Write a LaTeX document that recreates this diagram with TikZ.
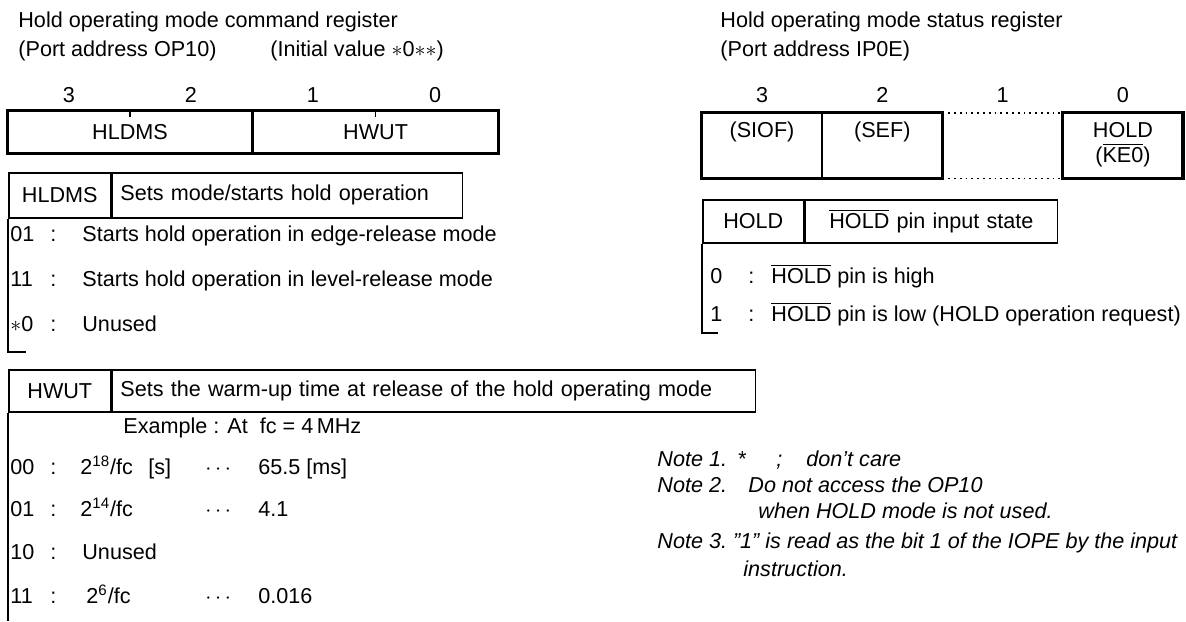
\documentclass[tikz,border=0pt]{standalone}
\usepackage{fontspec}
\setmainfont{Liberation Sans}
\usetikzlibrary{positioning}

\begin{document}
\begin{tikzpicture}[x=0.5pt, y=-0.5pt,
font=\fontsize{10.8}{12.5}\selectfont,
txt/.style={anchor=west, inner sep=0pt, text height=8pt, text depth=2pt},
note/.style={txt, font=\fontsize{10.8}{12.5}\selectfont\itshape},
bitno/.style={inner sep=0pt},
field/.style={rectangle, draw=black, line width=0.8pt, inner sep=0pt,
minimum width=122pt, minimum height=21pt},
cell/.style={rectangle, inner sep=0pt, minimum width=59.75pt, minimum height=32.5pt},
key/.style={rectangle, draw=black, line width=0.8pt, inner sep=0pt, minimum width=51pt},
desc/.style={rectangle, draw=black, line width=0.8pt, inner xsep=4pt, inner ysep=0pt, align=left},
reg/.style={draw=black, line width=1.6pt},
line/.style={draw=black, line width=0.8pt},
dotline/.style={draw=black, line width=0.9pt, dotted}
]
\useasboundingbox (0,0) rectangle (1186,621);

% titles
\node[txt] (cmd-title) at (18,21) {Hold operating mode command register};
\node[txt] (cmd-port) at (18,50) {(Port address OP10)};
\node[txt] (cmd-init) at (270,50) {(Initial value $\ast$0$\ast\ast$)};
\node[txt] (st-title) at (720,21) {Hold operating mode status register};
\node[txt] (st-port) at (720,50) {(Port address IP0E)};

% command register
\node[field] (hldms) at (130,132) {HLDMS};
\node[field, right=0pt of hldms] (hwut) {HWUT};
\draw[reg] (hldms.north west) rectangle (hwut.south east);
\draw[line] (hldms.north) -- ++(0,7);
\draw[line] (hwut.north) -- ++(0,7);
\foreach \b/\x in {3/69,2/191,1/313,0/435}
  \node[bitno] (cmd-b\b) at (\x,95) {\b};

% status register
\node[cell] (sc3) at (762,145.5) {};
\node[cell, right=0pt of sc3] (sc2) {};
\node[cell, right=0pt of sc2] (sc1) {};
\node[cell, right=0pt of sc1] (sc0) {};
\draw[reg] (sc3.north west) rectangle (sc2.south east);
\draw[line] (sc3.north east) -- (sc3.south east);
\draw[reg] (sc0.north west) rectangle (sc0.south east);
\draw[dotline] (sc1.north west) -- (sc1.north east);
\draw[dotline] (sc1.south west) -- (sc1.south east);
\foreach \b in {3,2,1,0}
  \node[bitno] (st-b\b) at ([yshift=9pt]sc\b.north) {\b};
\node[inner sep=0pt, below=4.5pt of sc3.north] (siof) {(SIOF)};
\node[inner sep=0pt, below=4.5pt of sc2.north] (sef) {(SEF)};
\node[inner sep=0pt, align=center, below=4.5pt of sc0.north] (hold) {HOLD\\($\overline{\mbox{KE0}}$)};

% HLDMS table
\node[key, minimum height=22.5pt, anchor=north west] (hldms-key) at (8,172) {HLDMS};
\node[desc, minimum height=22.5pt, text width=167pt, right=0pt of hldms-key] (hldms-desc) {Sets mode/starts hold operation};
\draw[line] (hldms-key.south west) -- (8,352) -- ++(18,0);
\foreach \y/\c/\t in {235/01/Starts hold operation in edge-release mode,
                      280/11/Starts hold operation in level-release mode,
                      325/{$\ast$0}/Unused} {
  \node[txt] at (10,\y) {\c};
  \node[txt] at (50,\y) {:};
  \node[txt] at (82,\y) {\t};
}

% HWUT table
\node[key, minimum height=21pt, anchor=north west] (hwut-key) at (8,369) {HWUT};
\node[desc, minimum height=21pt, text width=313.5pt, right=0pt of hwut-key] (hwut-desc) {Sets the warm-up time at release of the hold operating mode};
\draw[line] (hwut-key.south west) -- (8,621);
\node[txt] (example) at (123,427) {Example : At\ \ fc = 4\,MHz};
\foreach \y/\c/\t/\v in {468/00/{2\textsuperscript{18}/fc}/65.5,
                         510/01/{2\textsuperscript{14}/fc}/4.1,
                         597/11/{\ 2\textsuperscript{6}/fc}/0.016} {
  \node[txt] at (10,\y) {\c};
  \node[txt] at (50,\y) {:};
  \node[txt] at (80,\y) {\t};
  \node[txt] at (205,\y) {$\cdots$};
  \node[txt] at (258,\y) {\v};
}
\node[txt] at (148,468) {[s]};
\node[txt] at (306,468) {[ms]};
\node[txt] at (10,553) {10};
\node[txt] at (50,553) {:};
\node[txt] at (82,553) {Unused};

% HOLD table
\node[key, minimum width=50.5pt, minimum height=21.5pt, anchor=north west] (hold-key) at (702,199) {HOLD};
\node[desc, minimum height=21.5pt, text width=118pt, align=center, right=0pt of hold-key] (hold-desc) {$\overline{\mbox{HOLD}}$ pin input state};
\draw[line] (hold-key.south west) -- (702,333) -- ++(16,0);
\node[txt] at (710,277) {0};
\node[txt] at (748,277) {:};
\node[txt] at (771,277) {$\overline{\mbox{HOLD}}$ pin is high};
\node[txt] at (710,315) {1};
\node[txt] at (748,315) {:};
\node[txt] at (771,315) {$\overline{\mbox{HOLD}}$ pin is low (HOLD operation request)};

% notes
\node[note] (note1) at (657,460) {Note 1.};
\node[note] at (737,460) {*};
\node[note] at (776,460) {;};
\node[note] at (806,460) {don't care};
\node[note] (note2) at (657,486) {Note 2.};
\node[note] at (748,486) {Do not access the OP10};
\node[note] at (758,512) {when HOLD mode is not used.};
\node[note] (note3) at (657,542) {Note 3.\ "1" is read as the bit 1 of the IOPE by the input};
\node[note] at (743,570) {instruction.};

\end{tikzpicture}
\end{document}
